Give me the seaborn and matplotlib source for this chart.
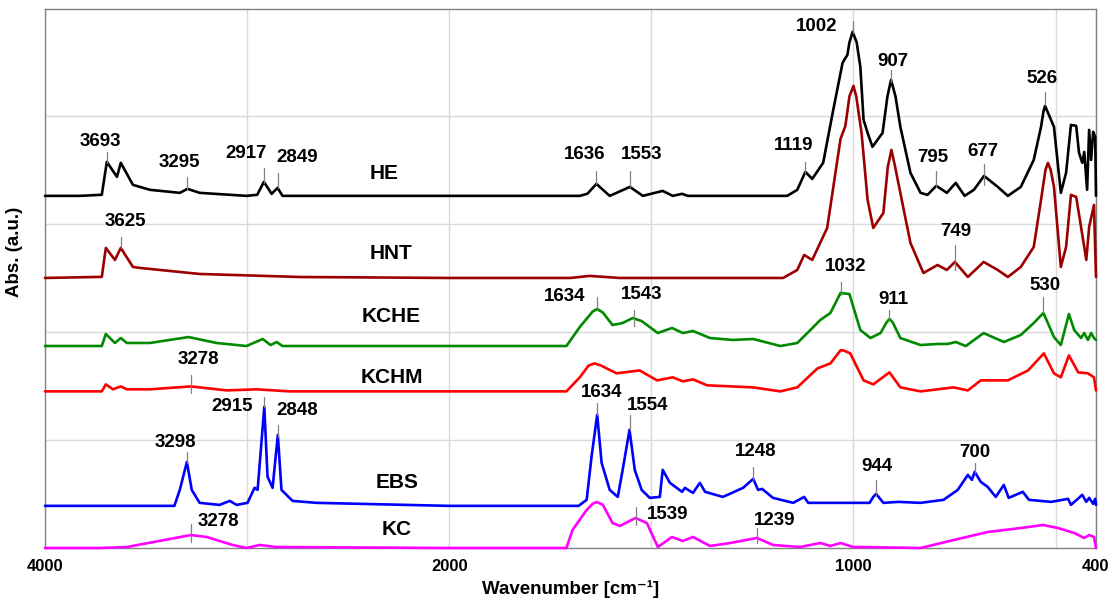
import numpy as np
import matplotlib
matplotlib.use("Agg")
import matplotlib.pyplot as plt
import seaborn as sns

# ---------------- spectra (wavenumber in cm-1, relative absorbance) ----------------
he_wn = [4000, 3827, 3719, 3694, 3644, 3625, 3565, 3481, 3333, 3295, 3235, 3003, 2950, 2917,
         2879, 2849, 2825, 2000, 1677, 1658, 1636, 1603, 1553, 1521, 1472, 1447, 1424, 1410,
         1164, 1139, 1119, 1102, 1075, 1050, 1027, 1015, 1010, 1002, 992, 983, 975, 965, 953,
         928, 916, 907, 896, 884, 859, 834, 817, 795, 769, 747, 725, 702, 677, 643, 618, 586,
         554, 536, 530, 526, 520, 504, 487, 474, 462, 449, 442, 434, 429, 422, 417, 412, 407,
         402, 400]
he_abs = [0, 0, 0.01, 0.315, 0.176, 0.306, 0.102, 0.056, 0.028, 0.065, 0.028, 0, 0.01, 0.13,
          0.019, 0.074, 0, 0, 0, 0.02, 0.111, 0, 0.083, 0, 0.046, 0, 0.019, 0,
          0, 0.056, 0.222, 0.157, 0.306, 0.796, 1.231, 1.306, 1.42, 1.519, 1.42, 1.194, 0.704,
          0.583, 0.454, 0.583, 0.92, 1.074, 0.92, 0.639, 0.213, 0.028, 0.009, 0.093, 0.028,
          0.120, 0, 0.056, 0.185, 0.083, 0, 0.083, 0.333, 0.639, 0.78, 0.833, 0.78, 0.639,
          0.028, 0.213, 0.657, 0.648, 0.398, 0.306, 0.407, 0.056, 0.611, 0.333, 0.593, 0.546, 0]

hnt_wn = [4000, 3719, 3699, 3654, 3625, 3565, 3531, 3235, 2741, 2000, 1700, 1653, 1578, 1174,
          1139, 1122, 1102, 1065, 1032, 1020, 1010, 1000, 993, 980, 965, 951, 926, 915, 906,
          897, 884, 859, 827, 792, 769, 749, 717, 678, 643, 618, 586, 554, 536, 525, 519, 512,
          504, 487, 474, 462, 449, 437, 424, 417, 405, 400]
hnt_abs = [0, 0.01, 0.278, 0.167, 0.278, 0.102, 0.093, 0.037, 0.009, 0, 0, 0.019, 0, 0,
           0.074, 0.213, 0.167, 0.463, 1.287, 1.407, 1.68, 1.778, 1.68, 1.343, 0.722, 0.463,
           0.602, 1.03, 1.185, 1.03, 0.787, 0.324, 0.046, 0.120, 0.074, 0.148, 0.009, 0.148,
           0.074, 0.009, 0.102, 0.287, 0.722, 1.0, 1.065, 1.0, 0.843, 0.102, 0.287, 0.769,
           0.750, 0.472, 0.167, 0.472, 0.676, 0.009]

kche_wn = [4000, 3719, 3699, 3654, 3625, 3595, 3481, 3290, 3151, 3003, 2923, 2884, 2854, 2825,
           2000, 1710, 1677, 1645, 1634, 1620, 1596, 1571, 1546, 1524, 1484, 1449, 1422, 1397,
           1355, 1298, 1248, 1181, 1139, 1114, 1082, 1057, 1032, 1010, 983, 958, 933, 918, 911,
           903, 884, 834, 792, 767, 747, 722, 678, 628, 586, 554, 530, 504, 487, 467, 454, 437,
           429, 420, 412, 405, 400]
kche_abs = [0, 0, 0.111, 0.028, 0.074, 0.028, 0.028, 0.083, 0.028, 0, 0.065, 0.009, 0.037, 0,
            0, 0, 0.176, 0.32, 0.343, 0.31, 0.194, 0.213, 0.259, 0.231, 0.120, 0.167, 0.120,
            0.139, 0.074, 0.056, 0.065, 0, 0.028, 0.120, 0.241, 0.306, 0.491, 0.481, 0.148,
            0.074, 0.120, 0.22, 0.250, 0.22, 0.074, 0.009, 0.019, 0.019, 0.037, 0, 0.120,
            0.037, 0.102, 0.213, 0.306, 0.083, 0.009, 0.296, 0.148, 0.074, 0.120, 0.056, 0.120,
            0.074, 0.056]

kchm_wn = [4000, 3719, 3699, 3664, 3625, 3595, 3481, 3278, 3101, 2953, 2790, 2000, 1710, 1677,
           1655, 1640, 1625, 1586, 1529, 1486, 1447, 1422, 1397, 1362, 1248, 1181, 1139, 1089,
           1057, 1032, 1025, 1008, 975, 951, 911, 884, 834, 752, 717, 685, 618, 568, 529, 504,
           487, 467, 444, 420, 405, 400]
kchm_abs = [0, 0, 0.065, 0.019, 0.046, 0.019, 0.019, 0.046, 0.009, 0.019, 0, 0, 0, 0.130,
            0.24, 0.259, 0.24, 0.167, 0.194, 0.102, 0.130, 0.093, 0.111, 0.056, 0.037, 0, 0.037,
            0.213, 0.259, 0.380, 0.380, 0.352, 0.102, 0.065, 0.176, 0.037, 0, 0.037, 0.009,
            0.102, 0.102, 0.194, 0.352, 0.167, 0.130, 0.333, 0.176, 0.167, 0.130, 0.009]

ebs_wn = [4000, 3360, 3333, 3298, 3274, 3235, 3136, 3086, 3052, 2998, 2963, 2948, 2915, 2899,
          2874, 2848, 2830, 2775, 2657, 2000, 1680, 1660, 1648, 1634, 1623, 1603, 1583, 1571,
          1554, 1541, 1524, 1504, 1479, 1472, 1454, 1424, 1417, 1397, 1380, 1367, 1323, 1273,
          1248, 1236, 1226, 1199, 1149, 1122, 1112, 960, 951, 944, 926, 889, 834, 777, 742,
          717, 707, 700, 685, 668, 648, 628, 616, 581, 566, 511, 469, 462, 434, 424, 417, 407,
          402, 400]
ebs_abs = [0, 0, 0.148, 0.407, 0.148, 0.028, 0.009, 0.046, 0.009, 0.028, 0.167, 0.148, 0.917,
           0.269, 0.167, 0.657, 0.148, 0.046, 0.028, 0, 0, 0.056, 0.454, 0.843, 0.398, 0.148,
           0.083, 0.333, 0.704, 0.333, 0.148, 0.074, 0.083, 0.333, 0.213, 0.130, 0.167, 0.120,
           0.213, 0.130, 0.083, 0.167, 0.250, 0.148, 0.157, 0.074, 0.028, 0.083, 0.028, 0.028,
           0.083, 0.111, 0.028, 0.037, 0.028, 0.056, 0.148, 0.287, 0.241, 0.315, 0.222, 0.176,
           0.083, 0.194, 0.074, 0.130, 0.056, 0.037, 0.065, 0.009, 0.102, 0.037, 0.074, 0.019,
           0.065, 0.009]

kc_wn = [4000, 3728, 3595, 3278, 3200, 3072, 3003, 2938, 2854, 2000, 1710, 1695, 1660, 1645,
         1635, 1620, 1596, 1578, 1539, 1511, 1484, 1449, 1422, 1397, 1355, 1305, 1239, 1199,
         1132, 1082, 1057, 1032, 1000, 983, 834, 752, 668, 586, 531, 494, 454, 429, 417, 405,
         400]
kc_abs = [0, 0, 0.009, 0.120, 0.102, 0.028, 0, 0.028, 0.009, 0, 0, 0.167, 0.352, 0.41,
          0.426, 0.40, 0.231, 0.204, 0.278, 0.231, 0.009, 0.102, 0.065, 0.102, 0.019, 0.046,
          0.093, 0.028, 0.009, 0.046, 0.019, 0.046, 0.009, 0.009, 0, 0.074, 0.148, 0.185, 0.213,
          0.185, 0.139, 0.093, 0.120, 0.102, 0]

sample_names = ["HE", "HNT", "KCHE", "KCHM", "EBS", "KC"]
stack_offsets = [3.26, 2.50, 1.87, 1.45, 0.39, 0.0]
spectra = [(he_wn, he_abs), (hnt_wn, hnt_abs), (kche_wn, kche_abs),
           (kchm_wn, kchm_abs), (ebs_wn, ebs_abs), (kc_wn, kc_abs)]
line_colors = ["#000000", "#9b0000", "#008a00", "#ff0000", "#0000ff", "#ff00ff"]

# name label placement (wavenumber, absorbance)
name_pos = [(2321, 3.47), (2287, 2.73), (2287, 2.14), (2282, 1.58), (2257, 0.61), (2262, 0.17)]

# band marks: value, tick bottom, tick top, text x, text y
band_labels = [
    (3693, 3.565, 3.667, 3728, 3.76),
    (3295, 3.324, 3.435, 3333, 3.565),
    (2917, 3.380, 3.519, 3003, 3.648),
    (2849, 3.333, 3.472, 2751, 3.611),
    (3625, 2.778, 2.880, 3600, 3.019),
    (1636, 3.370, 3.491, 1665, 3.639),
    (1553, 3.343, 3.491, 1524, 3.639),
    (1119, 3.472, 3.574, 1149, 3.722),
    (1002, 4.769, 4.880, 1092, 4.824),
    (907, 4.315, 4.426, 903, 4.50),
    (795, 3.343, 3.491, 804, 3.611),
    (677, 3.361, 3.556, 680, 3.667),
    (526, 4.102, 4.222, 534, 4.343),
    (749, 2.574, 2.806, 747, 2.926),
    (1032, 2.343, 2.463, 1020, 2.602),
    (911, 2.111, 2.204, 901, 2.296),
    (530, 2.176, 2.324, 526, 2.426),
    (1634, 2.213, 2.324, 1715, 2.324),
    (1543, 2.056, 2.204, 1524, 2.343),
    (3278, 1.435, 1.602, 3240, 1.741),
    (2915, 1.306, 1.398, 3072, 1.306),
    (2848, 1.028, 1.139, 2751, 1.269),
    (3298, 0.787, 0.889, 3353, 0.981),
    (1634, 1.231, 1.343, 1623, 1.444),
    (1554, 1.093, 1.231, 1509, 1.315),
    (1248, 0.630, 0.750, 1243, 0.889),
    (944, 0.491, 0.630, 941, 0.750),
    (700, 0.694, 0.787, 700, 0.880),
    (3278, 0.056, 0.222, 3141, 0.241),
    (1539, 0.213, 0.380, 1459, 0.306),
    (1239, 0.046, 0.185, 1194, 0.259),
]

x_major = [4000, 2000, 1000, 400]
x_minor = [3000, 1500, 500]
y_grid = [1, 2, 3, 4]

# ---------------- styling ----------------
sns.set_theme(style="white")
plt.rcParams["font.family"] = ["Liberation Sans", "DejaVu Sans"]
plt.rcParams["font.weight"] = "bold"
plt.rcParams["text.color"] = "black"
plt.rcParams["axes.labelcolor"] = "black"
plt.rcParams["xtick.color"] = "black"
plt.rcParams["ytick.color"] = "black"

fig = plt.figure(figsize=(11.15, 6.02), dpi=100)
ax = fig.add_axes([45 / 1115, 54 / 602, 1051 / 1115, 539 / 602])


# wavenumber axis compressed by a factor two above 2000 cm-1
def fwd(x):
    x = np.asarray(x, dtype=float)
    return np.where(x <= 2000, x, 2000 + (x - 2000) / 2.0)


def inv(y):
    y = np.asarray(y, dtype=float)
    return np.where(y <= 2000, y, 2000 + (y - 2000) * 2.0)


ax.set_xscale("function", functions=(fwd, inv))

for (wn, ab), off, col in zip(spectra, stack_offsets, line_colors):
    sns.lineplot(x=np.array(wn), y=np.array(ab) + off, color=col, lw=1.9,
                 sort=False, estimator=None, ax=ax, clip_on=False, zorder=3,
                 solid_joinstyle="round")

for name, (tx, ty) in zip(sample_names, name_pos):
    ax.text(tx, ty, name, fontsize=15, fontweight="bold", color="black",
            ha="center", va="center", zorder=5)

for val, y0, y1, tx, ty in band_labels:
    ax.plot([val, val], [y0, y1], color="#808080", lw=0.9, zorder=4)
    ax.text(tx, ty, str(val), fontsize=13.5, fontweight="bold", color="black",
            ha="center", va="center", zorder=5)

ax.set_xlim(4000, 400)
ax.set_ylim(0, 4.99)
ax.set_xticks(x_major)
ax.set_xticks(x_minor, minor=True)
ax.set_xticklabels([str(v) for v in x_major], fontsize=12, fontweight="bold", color="black")
ax.set_yticks(y_grid)
ax.set_yticklabels([])
ax.grid(True, which="both", color="#d9d9d9", lw=1.0, zorder=0)
ax.set_axisbelow(True)
ax.tick_params(axis="both", which="both", direction="in", length=5, width=1,
               color="#808080", pad=6)
ax.tick_params(axis="x", which="major", pad=8)
for sp in ax.spines.values():
    sp.set_color("#808080")
    sp.set_linewidth(1.0)

ax.set_xlabel("Wavenumber [cm⁻¹]", fontsize=13.5, fontweight="bold", color="black",
              labelpad=4)
ax.set_ylabel("Abs. (a.u.)", fontsize=13.5, fontweight="bold", color="black", labelpad=6)
ax.yaxis.set_label_coords(-0.021, 0.55)

fig.savefig("out.png", dpi=100)
